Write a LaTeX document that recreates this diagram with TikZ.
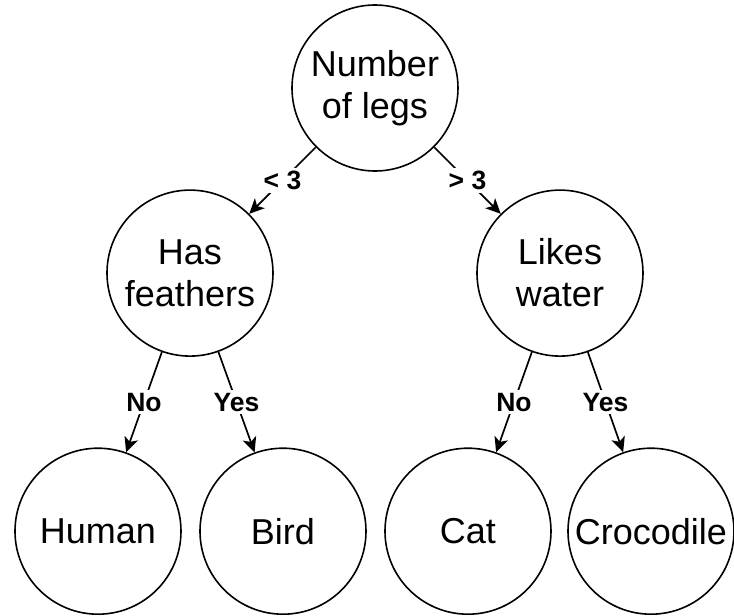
\documentclass[tikz,border=0pt]{standalone}
\usepackage{fontspec}
\setmainfont{Liberation Sans}
\usepackage{tikz}
\usetikzlibrary{arrows.meta, positioning}
\tikzstyle{question} = [circle, draw=black, line width=1.6pt, minimum size=166pt, inner sep=0pt, align=center, font=\fontsize{36}{42}\selectfont]
\tikzstyle{answer} = [question]
\tikzstyle{edgelabel} = [fill=white, inner sep=3pt, font=\fontsize{26.5}{30}\selectfont\bfseries]
\tikzstyle{branch} = [-{Stealth[length=15pt, width=14pt, inset=4pt]}, line width=1.7pt]

\begin{document}
\begin{tikzpicture}
        \useasboundingbox (-375pt, 88pt) rectangle (359pt, -528pt);

        \node[question] (legs) at (0,0) {Number\\of legs};
        \node[question, below=17.5pt of legs, xshift=-185pt] (feathers) {Has\\feathers};
        \node[question, below=17.5pt of legs, xshift=185pt] (water) {Likes\\water};

        \node[answer, below=90.5pt of feathers, xshift=-92pt] (human) {Human};
        \node[answer, below=90.5pt of feathers, xshift=93pt] (bird) {Bird};
        \node[answer, below=90.5pt of water, xshift=-92pt] (cat) {Cat};
        \node[answer, below=90.5pt of water, xshift=91pt] (crocodile) {Crocodile};

        \draw[branch] (legs) -- node[edgelabel] {< 3} (feathers);
        \draw[branch] (legs) -- node[edgelabel] {> 3} (water);
        \draw[branch] (feathers) -- node[edgelabel] {No} (human);
        \draw[branch] (feathers) -- node[edgelabel] {Yes} (bird);
        \draw[branch] (water) -- node[edgelabel] {No} (cat);
        \draw[branch] (water) -- node[edgelabel] {Yes} (crocodile);
    \end{tikzpicture}
\end{document}
